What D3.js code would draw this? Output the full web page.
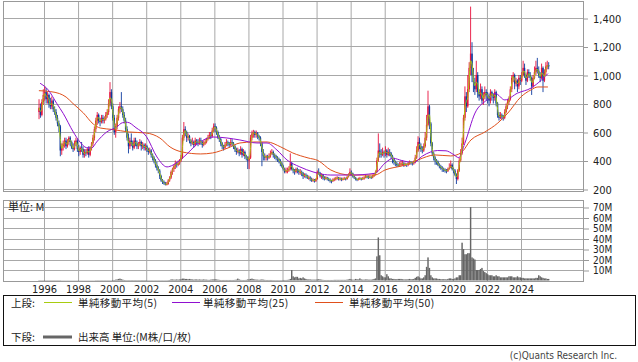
<!DOCTYPE html>
<html>
<head>
<meta charset="utf-8">
<script src="https://cdn.jsdelivr.net/npm/d3@7"></script>
<style>
  body { margin: 0; background: #fff; }
  text { font-family: "DejaVu Sans Condensed", "DejaVu Sans", sans-serif; font-stretch: condensed; }
  .jp { font-family: "Noto Sans CJK JP", sans-serif; font-stretch: normal; }
</style>
</head>
<body>
<div id="chart"></div>
<script>
// monthly candles, first month = 1995-09
var startYear = 1995, startMonth = 8;

var open = [
  740, 770, 720, 810,
  860, 880, 830, 860, 800, 780, 820, 760, 740, 700, 660, 640,
  470, 500, 520, 540, 500, 530, 560, 530, 490, 480, 520, 540,
  480, 460, 490, 480, 440, 460, 450, 480, 440, 490, 520, 560,
  620, 680, 720, 680, 670, 700, 680, 690, 720, 740, 800, 880,
  780, 700, 600, 640, 700, 760, 780, 760, 720, 680, 620, 560,
  500, 540, 520, 490, 540, 520, 500, 510, 530, 500, 510, 490,
  500, 480, 460, 470, 440, 420, 400, 370, 350, 330, 290, 260,
  250, 240, 230, 235, 260, 280, 320, 340, 360, 380, 370, 380,
  400, 420, 560, 620, 600, 560, 570, 540, 520, 530, 510, 540,
  530, 520, 540, 530, 510, 520, 530, 550, 560, 580, 570, 610,
  640, 630, 600, 560, 550, 520, 500, 490, 510, 530, 520, 510,
  530, 520, 500, 480, 460, 470, 450, 480, 440, 460, 430, 420,
  400, 420, 560, 590, 600, 580, 590, 570, 560, 520, 460, 430,
  420, 430, 420, 430, 450, 460, 440, 430, 420, 410, 400, 380,
  360, 340, 320, 330, 330, 340, 380, 340, 330, 320, 340, 330,
  320, 320, 310, 290, 300, 290, 280, 280, 270, 260, 265, 255,
  270, 320, 310, 290, 300, 280, 270, 280, 270, 265, 260, 255,
  265, 270, 275, 280, 270, 275, 265, 270, 275, 270, 285, 300,
  320, 310, 290, 280, 270, 265, 270, 275, 270, 275, 280, 290,
  285, 280, 285, 280, 290, 300, 320, 400, 470, 450, 440, 460,
  450, 470, 440, 460, 450, 430, 410, 390, 380, 370, 365, 370,
  380, 380, 370, 375, 370, 380, 390, 385, 380, 390, 420, 470,
  530, 500, 480, 470, 500, 560, 650, 780, 660, 520, 450, 420,
  400, 390, 370, 360, 350, 340, 335, 330, 325, 340, 350, 370,
  340, 330, 300, 270, 330, 400, 450, 520, 700, 850, 780, 900,
  1050, 1150, 1000, 950, 900, 1000, 880, 850, 900, 820, 850, 880,
  860, 850, 820, 880, 860, 840, 880, 800, 720, 700, 720, 710,
  700, 740, 780, 810, 830, 900, 980, 1000, 940, 960, 920, 980,
  960, 1000, 1050, 1000, 960, 1020, 1000, 980, 920, 980, 1020, 1050,
  1030, 1000, 980, 1050, 960, 1020, 1060, 1070
];
var high = [
  830, 800, 830, 900,
  920, 910, 880, 870, 840, 850, 830, 780, 760, 720, 680, 650,
  520, 540, 560, 560, 550, 570, 570, 540, 520, 540, 560, 550,
  510, 500, 530, 500, 480, 480, 490, 500, 500, 530, 580, 640,
  700, 740, 730, 700, 720, 720, 710, 740, 760, 830, 950, 900,
  800, 720, 660, 720, 780, 810, 880, 780, 740, 700, 640, 590,
  560, 590, 540, 560, 560, 540, 530, 550, 540, 530, 520, 520,
  510, 490, 490, 480, 450, 430, 410, 390, 360, 340, 300, 270,
  260, 250, 250, 270, 290, 330, 350, 370, 400, 390, 400, 410,
  440, 580, 670, 640, 610, 590, 580, 550, 560, 540, 560, 550,
  550, 560, 560, 540, 540, 550, 560, 580, 600, 600, 630, 660,
  660, 640, 610, 580, 560, 530, 510, 530, 550, 540, 530, 550,
  550, 530, 510, 490, 490, 480, 500, 490, 480, 470, 440, 430,
  430, 580, 610, 615, 610, 610, 600, 580, 570, 530, 480, 450,
  440, 440, 450, 470, 480, 470, 450, 440, 430, 420, 410, 390,
  370, 350, 350, 350, 360, 450, 390, 350, 340, 350, 350, 340,
  340, 330, 320, 310, 310, 300, 295, 290, 280, 275, 270, 275,
  330, 345, 320, 310, 305, 290, 290, 285, 280, 275, 265, 275,
  280, 285, 290, 285, 285, 280, 280, 285, 280, 290, 310, 345,
  330, 315, 295, 285, 275, 280, 285, 280, 285, 290, 300, 295,
  295, 295, 290, 300, 310, 330, 420, 590, 520, 480, 490, 470,
  500, 480, 490, 480, 460, 440, 420, 400, 390, 380, 390, 400,
  400, 390, 385, 380, 390, 400, 395, 390, 400, 440, 500, 570,
  560, 520, 500, 520, 600, 720, 890, 790, 670, 530, 460, 430,
  410, 400, 380, 370, 360, 350, 345, 340, 350, 380, 400, 380,
  350, 340, 310, 340, 420, 480, 560, 720, 920, 880, 1000, 1090,
  1480, 1230, 1050, 980, 1100, 1020, 900, 940, 920, 880, 920, 900,
  880, 870, 900, 890, 870, 900, 890, 810, 740, 740, 730, 720,
  760, 800, 830, 850, 920, 1000, 1020, 1010, 980, 970, 1000, 1000,
  1020, 1100, 1080, 1010, 1040, 1040, 1020, 990, 1000, 1060, 1100, 1120,
  1060, 1020, 1080, 1060, 1040, 1090, 1100, 1090
];
var low = [
  690, 700, 710, 790,
  820, 800, 800, 770, 760, 760, 740, 720, 680, 640, 600, 430,
  440, 470, 490, 480, 490, 510, 500, 480, 460, 470, 500, 460,
  430, 440, 460, 420, 420, 430, 440, 420, 430, 470, 500, 540,
  600, 650, 660, 640, 660, 660, 660, 680, 700, 720, 780, 760,
  680, 580, 560, 620, 680, 730, 740, 700, 660, 600, 540, 450,
  480, 500, 470, 480, 500, 480, 480, 500, 470, 480, 470, 470,
  460, 440, 450, 420, 400, 380, 350, 330, 310, 270, 250, 235,
  230, 225, 225, 230, 250, 270, 300, 320, 340, 350, 360, 370,
  390, 410, 540, 570, 530, 540, 520, 500, 510, 490, 500, 510,
  500, 510, 510, 490, 500, 510, 520, 540, 550, 550, 560, 600,
  600, 580, 550, 530, 500, 480, 470, 480, 500, 500, 490, 500,
  500, 480, 460, 440, 450, 430, 440, 420, 430, 410, 400, 340,
  340, 410, 540, 560, 560, 560, 550, 540, 500, 360, 400, 400,
  400, 400, 410, 420, 440, 420, 410, 400, 390, 380, 360, 350,
  330, 310, 310, 310, 320, 330, 330, 310, 300, 310, 310, 300,
  300, 290, 270, 280, 275, 270, 265, 255, 250, 250, 245, 250,
  265, 300, 280, 270, 265, 260, 265, 260, 255, 245, 240, 250,
  255, 260, 265, 260, 260, 255, 260, 265, 260, 265, 280, 295,
  295, 280, 270, 260, 255, 260, 265, 260, 265, 265, 275, 275,
  270, 275, 270, 275, 285, 295, 315, 390, 420, 420, 430, 420,
  430, 420, 430, 430, 410, 380, 370, 360, 355, 355, 355, 360,
  365, 355, 360, 355, 360, 370, 370, 365, 370, 380, 410, 460,
  480, 460, 450, 460, 490, 540, 640, 620, 500, 430, 400, 370,
  370, 360, 345, 335, 320, 320, 315, 310, 320, 335, 345, 330,
  310, 290, 235, 260, 320, 390, 440, 510, 680, 740, 770, 880,
  1000, 950, 880, 860, 880, 840, 820, 830, 800, 790, 830, 820,
  800, 780, 800, 820, 800, 820, 780, 700, 680, 690, 690, 680,
  690, 730, 760, 790, 820, 880, 950, 900, 920, 880, 900, 930,
  950, 990, 980, 930, 950, 980, 960, 860, 910, 970, 1000, 1010,
  980, 950, 970, 880, 950, 1000, 1040, 1040
];
var close = [
  770, 720, 810, 860,
  880, 830, 860, 800, 780, 820, 760, 740, 700, 660, 640, 470,
  500, 520, 540, 500, 530, 560, 530, 490, 480, 520, 540, 480,
  460, 490, 480, 440, 460, 450, 480, 440, 490, 520, 560, 620,
  680, 720, 680, 670, 700, 680, 690, 720, 740, 800, 880, 780,
  700, 600, 640, 700, 760, 780, 760, 720, 680, 620, 560, 500,
  540, 520, 490, 540, 520, 500, 510, 530, 500, 510, 490, 500,
  480, 460, 470, 440, 420, 400, 370, 350, 330, 290, 260, 250,
  240, 230, 235, 260, 280, 320, 340, 360, 380, 370, 380, 400,
  420, 560, 620, 600, 560, 570, 540, 520, 530, 510, 540, 530,
  520, 540, 530, 510, 520, 530, 550, 560, 580, 570, 610, 640,
  630, 600, 560, 550, 520, 500, 490, 510, 530, 520, 510, 530,
  520, 500, 480, 460, 470, 450, 480, 440, 460, 430, 420, 400,
  420, 560, 590, 600, 580, 590, 570, 560, 520, 460, 430, 420,
  430, 420, 430, 450, 460, 440, 430, 420, 410, 400, 380, 360,
  340, 320, 330, 330, 340, 380, 340, 330, 320, 340, 330, 320,
  320, 310, 290, 300, 290, 280, 280, 270, 260, 265, 255, 270,
  320, 310, 290, 300, 280, 270, 280, 270, 265, 260, 255, 265,
  270, 275, 280, 270, 275, 265, 270, 275, 270, 285, 300, 320,
  310, 290, 280, 270, 265, 270, 275, 270, 275, 280, 290, 285,
  280, 285, 280, 290, 300, 320, 400, 470, 450, 440, 460, 450,
  470, 440, 460, 450, 430, 410, 390, 380, 370, 365, 370, 380,
  380, 370, 375, 370, 380, 390, 385, 380, 390, 420, 470, 530,
  500, 480, 470, 500, 560, 650, 780, 660, 520, 450, 420, 400,
  390, 370, 360, 350, 340, 335, 330, 325, 340, 350, 370, 340,
  330, 300, 270, 330, 400, 450, 520, 700, 850, 780, 900, 1050,
  1150, 1000, 950, 900, 1000, 880, 850, 900, 820, 850, 880, 860,
  850, 820, 880, 860, 840, 880, 800, 720, 700, 720, 710, 700,
  740, 780, 810, 830, 900, 980, 1000, 940, 960, 920, 980, 960,
  1000, 1050, 1000, 960, 1020, 1000, 980, 920, 980, 1020, 1050, 1030,
  1000, 980, 1050, 960, 1020, 1060, 1070, 1060
];
// volume, millions
var volume = [
  0.3, 0.3, 0.3, 0.3,
  0.3, 0.3, 0.3, 0.3, 0.3, 0.3, 0.3, 0.3, 0.3, 0.3, 0.3, 0.3,
  0.2, 0.2, 0.2, 0.2, 0.2, 0.2, 0.2, 0.2, 0.2, 0.2, 0.2, 0.2,
  0.2, 0.2, 0.2, 0.2, 0.2, 0.2, 0.2, 0.2, 0.2, 0.2, 0.2, 0.2,
  0.3, 0.3, 0.3, 0.3, 0.3, 0.3, 0.3, 0.3, 0.3, 0.3, 0.3, 0.3,
  0.5, 0.5, 0.8, 1.0, 1.5, 1.8, 1.2, 0.8, 0.5, 0.4, 0.4, 0.4,
  0.4, 0.4, 0.4, 0.4, 0.4, 0.4, 0.4, 0.4, 0.4, 0.4, 0.4, 0.4,
  0.3, 0.3, 0.3, 0.3, 0.3, 0.3, 0.3, 0.3, 0.3, 0.3, 0.3, 0.3,
  0.3, 0.3, 0.3, 0.4, 0.5, 1.0, 1.0, 0.8, 0.8, 1.0, 0.8, 1.0,
  1.2, 1.8, 1.8, 1.5, 1.5, 1.2, 1.5, 1.2, 1.0, 0.8, 1.0, 1.0,
  0.8, 1.0, 0.8, 0.8, 1.0, 0.8, 0.8, 0.6, 0.6, 0.8, 1.0, 1.0,
  1.2, 1.0, 0.8, 0.6, 0.5, 0.5, 0.5, 0.5, 0.5, 0.5, 0.5, 0.5,
  0.5, 0.5, 0.6, 0.8, 1.8, 1.0, 0.6, 0.5, 0.5, 0.5, 0.6, 1.0,
  1.0, 1.5, 1.8, 1.2, 1.0, 0.8, 0.8, 0.6, 0.8, 1.0, 0.8, 0.6,
  0.5, 0.5, 0.5, 0.5, 0.5, 0.4, 0.4, 0.4, 0.4, 0.4, 0.4, 0.4,
  0.5, 0.5, 0.5, 0.6, 0.8, 1.5, 10, 4, 3, 3.5, 3.5, 2,
  2.5, 2.0, 3.0, 2.0, 1.5, 1.0, 1.0, 1.0, 0.8, 0.8, 0.8, 0.8,
  1.0, 1.2, 1.0, 0.8, 0.6, 0.5, 0.5, 0.5, 0.5, 0.5, 0.5, 0.5,
  0.6, 0.6, 0.6, 0.6, 0.6, 0.6, 0.6, 0.6, 0.6, 0.8, 1.0, 1.5,
  1.0, 0.8, 0.8, 1.5, 1.2, 1.0, 2.0, 1.0, 0.8, 0.8, 1.0, 1.0,
  0.8, 0.8, 0.8, 1.0, 1.5, 2.0, 23, 41, 24, 5, 4, 3,
  3, 6, 4, 2, 2, 1.5, 1.5, 1.2, 1.2, 1.5, 1.5, 1.5,
  1.2, 1.0, 1.0, 1.0, 1.2, 1.5, 1.2, 1.2, 1.5, 2.5, 3.5, 4,
  3, 2, 2, 3, 5, 13, 22, 12, 5, 3, 2, 2,
  2, 1.5, 1.5, 1.2, 1.2, 1.2, 1.2, 1.0, 1.5, 2, 2, 1.5,
  1.5, 2, 3, 3, 5, 5, 36, 30, 25, 25, 26, 26,
  70, 22, 21, 20, 10, 10, 10, 11, 12, 9, 8, 7,
  6, 5, 5, 5, 4, 4, 5, 4, 4, 3, 3, 3,
  3, 3, 3, 4, 4, 4, 3, 3, 3, 4, 3, 3,
  2.5, 2.5, 2, 2, 2, 2, 2, 2, 2, 2, 2.5, 2.5,
  5, 4, 3, 2.5, 2, 2, 1.5, 1.5
];
// moving averages: [decimal year, value]
var ma25 = [
  [1995.77, 942], [1996.25, 895], [1996.75, 800], [1997.13, 730], [1997.72, 600],
  [1998.11, 530], [1998.5, 490], [1998.8, 488], [1999.09, 530], [1999.68, 600],
  [2000.27, 635], [2000.6, 665], [2000.9, 668], [2001.4, 630], [2002.0, 570],
  [2002.63, 425], [2003.22, 355], [2003.57, 368], [2004.16, 420], [2005.1, 525],
  [2005.92, 565], [2006.74, 558], [2007.5, 544], [2008.5, 523], [2009.09, 523],
  [2009.67, 474], [2010.26, 404], [2011.02, 355], [2011.79, 320], [2012.08, 310],
  [2012.84, 298], [2014.02, 298], [2015.42, 310], [2016.01, 381], [2016.5, 415],
  [2017.0, 400], [2017.7, 385], [2018.2, 430], [2018.7, 460], [2019.1, 470],
  [2019.6, 468], [2020.0, 445], [2020.35, 420], [2020.7, 520], [2021.3, 733],
  [2022.0, 825], [2022.5, 870], [2023.05, 825], [2023.8, 873], [2024.6, 909],
  [2025.2, 965], [2025.58, 1010]
];
var ma50 = [
  [1995.7, 890], [1996.4, 883], [1996.9, 870], [1997.3, 845], [1997.7, 800],
  [1998.3, 735], [1998.9, 655], [1999.3, 628], [2000.0, 618], [2001.0, 600],
  [2002.0, 593], [2002.8, 558], [2003.4, 495], [2004.1, 460], [2005.2, 446],
  [2005.9, 453], [2006.8, 488], [2007.5, 523], [2008.3, 530], [2009.1, 530],
  [2009.9, 495], [2010.6, 453], [2011.5, 418], [2012.08, 400], [2012.84, 333],
  [2014.02, 298], [2015.42, 298], [2016.01, 333], [2017.19, 368], [2017.95, 404],
  [2018.95, 439], [2019.88, 432], [2020.47, 453], [2021.06, 544], [2021.88, 600],
  [2022.64, 663], [2023.23, 733], [2023.99, 846], [2024.58, 895], [2024.99, 916],
  [2025.58, 916]
];
var ma5Window = 2; // months, roughly 5 weeks

var yearTicks = d3.range(1996, 2025, 2);
var priceTicks = [200, 400, 600, 800, 1000, 1200, 1400];
var volTicks = [10, 20, 30, 40, 50, 60, 70];

var W = 638, H = 362;
var left = 3, right = 583;
var pTop = 1, pBottom = 191;
var vTop = 200, vBottom = 281;

var svg = d3.select("#chart").append("svg").attr("width", W).attr("height", H);

var x = d3.scaleLinear().domain([1996, 2024]).range([44, 521]);
var yP = d3.scaleLinear().domain([200, 1400]).range([189, 18]);
var yV = d3.scaleLinear().domain([0, 10]).range([280.5, 270]);

var candles = close.map(function (c, i) {
    var m = startMonth + i;
    return {
        t: startYear + Math.floor(m / 12) + ((m % 12) + 0.5) / 12,
        o: open[i], h: high[i], l: low[i], c: c, v: volume[i]
    };
});
candles.forEach(function (d, i) {
    var s = candles.slice(Math.max(0, i - ma5Window + 1), i + 1);
    d.ma5 = d3.mean(s, function (e) { return e.c; });
});

var grid = "#a8a8a8";

// --- price panel
svg.append("g").selectAll("line").data(yearTicks).enter().append("line")
    .attr("x1", function (d) { return x(d) + 0.5; }).attr("x2", function (d) { return x(d) + 0.5; })
    .attr("y1", pTop).attr("y2", pBottom).attr("stroke", grid);
svg.append("g").selectAll("line").data(priceTicks).enter().append("line")
    .attr("x1", left).attr("x2", right)
    .attr("y1", function (d) { return Math.round(yP(d)) + 0.5; })
    .attr("y2", function (d) { return Math.round(yP(d)) + 0.5; })
    .attr("stroke", grid);
svg.append("rect").attr("x", left + 0.5).attr("y", pTop + 0.5)
    .attr("width", right - left).attr("height", pBottom - pTop)
    .attr("fill", "none").attr("stroke", "#999");

svg.append("clipPath").attr("id", "pclip").append("rect")
    .attr("x", left).attr("y", pTop).attr("width", right - left).attr("height", pBottom - pTop);

var cg = svg.append("g").attr("clip-path", "url(#pclip)");
var up = "#e8103c", down = "#0c3a9e";
cg.selectAll("line.wick").data(candles).enter().append("line")
    .attr("class", "wick")
    .attr("x1", function (d) { return x(d.t); }).attr("x2", function (d) { return x(d.t); })
    .attr("y1", function (d) { return yP(d.h); }).attr("y2", function (d) { return yP(d.l); })
    .attr("stroke", function (d) { return d.c >= d.o ? up : down; })
    .attr("stroke-width", 0.9);
cg.selectAll("rect.body").data(candles).enter().append("rect")
    .attr("class", "body")
    .attr("x", function (d) { return x(d.t) - 0.7; })
    .attr("width", 1.4)
    .attr("y", function (d) { return yP(Math.max(d.o, d.c)); })
    .attr("height", function (d) { return Math.max(1, Math.abs(yP(d.o) - yP(d.c))); })
    .attr("fill", function (d) { return d.c >= d.o ? up : down; });

var lineP = d3.line().x(function (d) { return x(d[0]); }).y(function (d) { return yP(d[1]); })
    .curve(d3.curveMonotoneX);
cg.append("path").attr("d", lineP(ma50)).attr("fill", "none").attr("stroke", "#e0501c").attr("stroke-width", 1);
cg.append("path").attr("d", lineP(ma25)).attr("fill", "none").attr("stroke", "#9010d0").attr("stroke-width", 1);
cg.append("path")
    .attr("d", d3.line().x(function (d) { return x(d.t); }).y(function (d) { return yP(d.ma5); })
        .curve(d3.curveMonotoneX)(candles))
    .attr("fill", "none").attr("stroke", "#a8cc10").attr("stroke-width", 1);

var yAxisP = d3.axisRight(yP).tickValues(priceTicks).tickSize(5).tickPadding(4)
    .tickFormat(d3.format(","));
svg.append("g").attr("transform", "translate(" + right + ",0.5)").call(yAxisP)
    .call(function (g) { g.select(".domain").remove(); })
    .call(function (g) {
        g.selectAll("line").attr("stroke", "#999");
        g.selectAll("text").attr("font-size", 11).attr("fill", "#222").attr("x", 10);
    });

// --- volume panel
svg.append("g").selectAll("line").data(yearTicks).enter().append("line")
    .attr("x1", function (d) { return x(d) + 0.5; }).attr("x2", function (d) { return x(d) + 0.5; })
    .attr("y1", vTop).attr("y2", vBottom).attr("stroke", grid);
svg.append("g").selectAll("line").data(volTicks).enter().append("line")
    .attr("x1", left).attr("x2", right)
    .attr("y1", function (d) { return Math.round(yV(d)) + 0.5; })
    .attr("y2", function (d) { return Math.round(yV(d)) + 0.5; })
    .attr("stroke", grid);
svg.append("rect").attr("x", left + 0.5).attr("y", vTop + 0.5)
    .attr("width", right - left).attr("height", vBottom - vTop)
    .attr("fill", "none").attr("stroke", "#999");

svg.append("g").selectAll("rect").data(candles).enter().append("rect")
    .attr("x", function (d) { return x(d.t) - 0.72; })
    .attr("width", 1.44)
    .attr("y", function (d) { return yV(d.v); })
    .attr("height", function (d) { return yV(0) - yV(d.v); })
    .attr("fill", "#666");

var yAxisV = d3.axisRight(yV).tickValues(volTicks).tickSize(6).tickPadding(3)
    .tickFormat(function (d) { return d + "M"; });
svg.append("g").attr("transform", "translate(" + right + ",0.5)").call(yAxisV)
    .call(function (g) { g.select(".domain").remove(); })
    .call(function (g) {
        g.selectAll("line").attr("stroke", "#999");
        g.selectAll("text").attr("font-size", 10).attr("fill", "#222").attr("x", 10);
    });

svg.append("text").attr("class", "jp").attr("x", 8).attr("y", 211)
    .attr("font-size", 11).attr("fill", "#222").text("単位: M");

// --- year labels
var xAxis = d3.axisBottom(x).tickValues(yearTicks).tickSize(0).tickPadding(0)
    .tickFormat(d3.format("d"));
svg.append("g").attr("transform", "translate(0," + (vBottom + 2) + ")").call(xAxis)
    .call(function (g) { g.select(".domain").remove(); })
    .call(function (g) {
        g.selectAll("text").attr("font-size", 11).attr("fill", "#222").attr("dy", "0.9em");
    });

// --- legend
var lg = svg.append("g");
lg.append("rect").attr("x", 3.5).attr("y", 295.5).attr("width", 632).attr("height", 50)
    .attr("fill", "none").attr("stroke", "#111");
var legendRow1 = [
    { x1: 44, x2: 72, tx: 78, color: "#a8cc10", label: "単純移動平均(5)" },
    { x1: 172, x2: 200, tx: 203, color: "#9010d0", label: "単純移動平均(25)" },
    { x1: 315, x2: 343, tx: 349, color: "#e0501c", label: "単純移動平均(50)" }
];
lg.append("text").attr("class", "jp").attr("x", 11).attr("y", 306.5).attr("font-size", 10.5)
    .attr("fill", "#222").text("上段:");
lg.selectAll("line.l1").data(legendRow1).enter().append("line")
    .attr("x1", function (d) { return d.x1; }).attr("x2", function (d) { return d.x2; })
    .attr("y1", 302.5).attr("y2", 302.5).attr("stroke", function (d) { return d.color; });
lg.selectAll("text.l1").data(legendRow1).enter().append("text")
    .attr("class", "jp").attr("x", function (d) { return d.tx; }).attr("y", 306.5)
    .attr("font-size", 10.5).attr("letter-spacing", 0.4).attr("fill", "#222")
    .text(function (d) { return d.label; });
lg.append("text").attr("class", "jp").attr("x", 11).attr("y", 341).attr("font-size", 10.5)
    .attr("fill", "#222").text("下段:");
lg.append("line").attr("x1", 43).attr("x2", 72).attr("y1", 337).attr("y2", 337)
    .attr("stroke", "#666").attr("stroke-width", 3);
lg.append("text").attr("class", "jp").attr("x", 78).attr("y", 341).attr("font-size", 10.5)
    .attr("fill", "#222").text("出来高 単位:(M株/口/枚)");

svg.append("text").attr("x", 617).attr("y", 359).attr("text-anchor", "end")
    .attr("font-size", 10).attr("fill", "#444").text("(c)Quants Research Inc.");
</script>
</body>
</html>
